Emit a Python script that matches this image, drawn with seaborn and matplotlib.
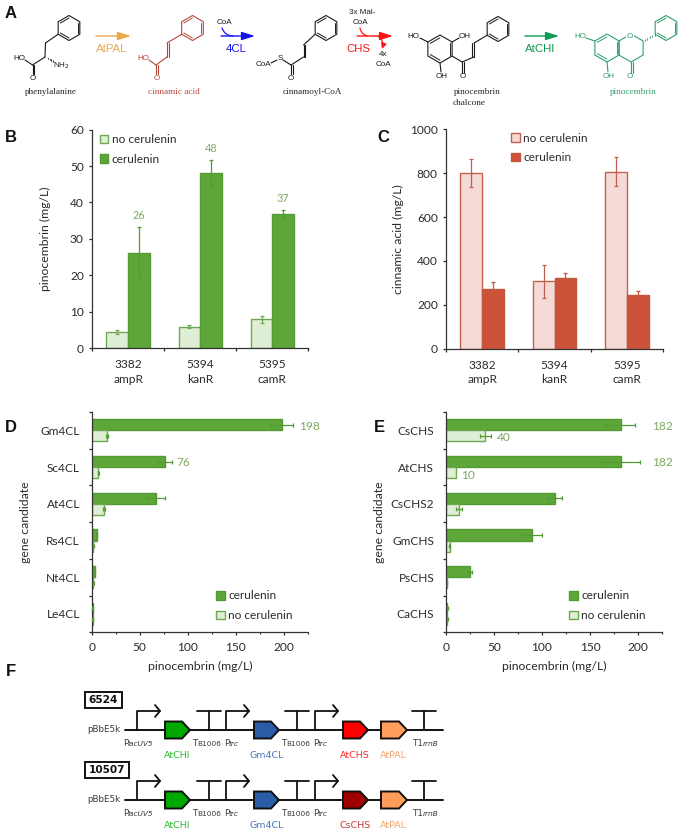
import numpy as np
import pandas as pd
import matplotlib
matplotlib.use('Agg')
import matplotlib.pyplot as plt
from matplotlib.patches import Polygon, Rectangle, FancyArrowPatch
import seaborn as sns

W, H = 680, 832

# dati pannelli B e C
ceppi = ['3382\nampR', '5394\nkanR', '5395\ncamR']
b_no = [4.4, 5.9, 7.9]
b_no_err = [0.5, 0.3, 1.0]
b_cer = [26.2, 48.0, 36.8]
b_cer_err = [7.0, 3.8, 1.0]
b_etichette = ['26', '48', '37']

c_no = [800, 308, 806]
c_no_err = [63, 75, 66]
c_cer = [270, 323, 243]
c_cer_err = [35, 24, 18]

# dati pannelli D ed E
geni_d = ['Gm4CL', 'Sc4CL', 'At4CL', 'Rs4CL', 'Nt4CL', 'Le4CL']
d_cer = [198, 76, 67, 5, 3, 1]
d_cer_err = [11.5, 8, 9, 0.8, 0.5, 0.3]
d_no = [16, 7, 13, 1.5, 1.5, 1]
d_no_err = [0.8, 0.8, 0.8, 0.4, 0.4, 0.3]

geni_e = ['CsCHS', 'AtCHS', 'CsCHS2', 'GmCHS', 'PsCHS', 'CaCHS']
e_cer = [182, 182, 113.5, 90, 25, 1.5]
e_cer_err = [15, 20, 7, 9.5, 2, 0.3]
e_no = [41, 10, 13.5, 4, 0.8, 1.5]
e_no_err = [6, 0, 3.5, 0.5, 0.2, 0.3]

VERDE_CHIARO, VERDE = '#DFEFD5', '#5FA63A'
BORDO_VERDE_CHIARO, BORDO_VERDE = '#6EA853', '#549A33'
ROSSO_CHIARO, ROSSO = '#F5DBD7', '#CC5239'
BORDO_ROSSO_CHIARO, BORDO_ROSSO = '#C2604F', '#C2573F'
ETICHETTA_VERDE = '#7FA860'
TESTO = '#2B2B2B'
FS = 8.6

sns.set_theme(style='ticks')
plt.rcParams['font.family'] = ['Lato', 'DejaVu Sans']
plt.rcParams['text.color'] = TESTO
plt.rcParams['axes.labelcolor'] = TESTO
plt.rcParams['xtick.color'] = TESTO
plt.rcParams['ytick.color'] = TESTO

fig = plt.figure(figsize=(W / 100, H / 100), dpi=100)


def assi_px(x0, y0, x1, y1):
    # assi posizionati in pixel dell'immagine
    return fig.add_axes([x0 / W, 1 - y1 / H, (x1 - x0) / W, (y1 - y0) / H])


def barre(ax, categorie, serie, nomi, colori, orizzontale=False):
    # tabella lunga per seaborn
    righe = []
    for nome, valori in zip(nomi, serie):
        for c, v in zip(categorie, valori):
            righe.append({'categoria': c, 'valore': v, 'gruppo': nome})
    df = pd.DataFrame(righe)
    assi = {'y': 'categoria', 'x': 'valore'} if orizzontale else {'x': 'categoria', 'y': 'valore'}
    sns.barplot(data=df, hue='gruppo', hue_order=nomi, palette=colori, width=0.6,
                gap=0, legend=False, ax=ax, saturation=1, errorbar=None, **assi)


def stile_barre(cont, bordo):
    for p in cont:
        p.set_edgecolor(bordo)
        p.set_linewidth(1.0)


def errori(ax, cont, valori, err, colore, orizzontale=False):
    for p, v, e in zip(cont, valori, err):
        if e == 0:
            continue
        if orizzontale:
            ax.errorbar(v, p.get_y() + p.get_height() / 2, xerr=e, color=colore, lw=0.9,
                        capsize=1.6, capthick=0.9, zorder=5)
        else:
            ax.errorbar(p.get_x() + p.get_width() / 2, v, yerr=e, color=colore, lw=0.9,
                        capsize=1.6, capthick=0.9, zorder=5)


def spine_base(ax):
    sns.despine(ax=ax)
    for s in ['left', 'bottom']:
        ax.spines[s].set_color('#333333')
        ax.spines[s].set_linewidth(0.9)
    ax.set_xlabel('')
    ax.set_ylabel('')


def legenda(ax, cont, nomi, pos):
    leg = ax.legend([c[0] for c in cont], nomi, loc='upper left', bbox_to_anchor=pos,
                    frameon=False, fontsize=FS, handlelength=0.72, handleheight=0.72,
                    handletextpad=0.28, labelspacing=0.72, borderpad=0, borderaxespad=0)
    return leg


def verticale(box, serie, err, nomi, colori, bordi, ylim, yticks, ylabel, xlab_px, leg_pos):
    ax = assi_px(*box)
    barre(ax, ceppi, serie, nomi, colori)
    for cont, bordo, val, er in zip(ax.containers, bordi, serie, err):
        stile_barre(cont, bordo)
        errori(ax, cont, val, er, bordo)
    spine_base(ax)
    ax.set_xlim(-0.5, 2.5)
    ax.set_ylim(*ylim)
    ax.set_yticks(yticks)
    ax.tick_params(axis='y', labelsize=FS, length=2.3, width=0.9, pad=3.6)
    # tacche ai confini delle categorie, etichette al centro
    ax.set_xticks([-0.5, 0.5, 1.5, 2.5])
    ax.set_xticklabels([])
    ax.set_xticks([0, 1, 2], minor=True)
    ax.set_xticklabels(ceppi, minor=True, fontsize=FS, linespacing=1.38)
    ax.tick_params(axis='x', which='major', length=2.3, width=0.9)
    ax.tick_params(axis='x', which='minor', length=0, pad=8)
    ax.set_ylabel(ylabel, fontsize=8.8)
    ax.yaxis.set_label_coords((xlab_px + 6 - box[0]) / (box[2] - box[0]), 0.5)
    legenda(ax, ax.containers, nomi, leg_pos)
    return ax


def orizzontale(box, geni, serie, err, colori, bordi, ylab_px, leg_pos):
    nomi = ['cerulenin', 'no cerulenin']
    ax = assi_px(*box)
    barre(ax, geni, serie, nomi, colori, orizzontale=True)
    for cont, bordo, val, er in zip(ax.containers, bordi, serie, err):
        stile_barre(cont, bordo)
        errori(ax, cont, val, er, BORDO_VERDE, orizzontale=True)
    spine_base(ax)
    ax.set_xlim(0, 225)
    ax.set_ylim(5.5, -0.5)
    ax.set_xticks([0, 50, 100, 150, 200])
    ax.set_xticks([25, 75, 125, 175, 225], minor=True)
    ax.tick_params(axis='x', which='major', labelsize=FS, length=2.3, width=0.9, pad=5)
    ax.tick_params(axis='x', which='minor', length=1.5, width=0.8)
    ax.set_yticks([-0.5, 0.5, 1.5, 2.5, 3.5, 4.5, 5.5])
    ax.set_yticklabels([])
    ax.set_yticks(range(6), minor=True)
    ax.set_yticklabels(geni, minor=True, fontsize=FS)
    ax.tick_params(axis='y', which='major', length=2.3, width=0.9)
    ax.tick_params(axis='y', which='minor', length=0, pad=8.5)
    ax.set_xlabel('pinocembrin (mg/L)', fontsize=8.8)
    ax.xaxis.set_label_coords(0.5, -(661 - box[3]) / (box[3] - box[1]))
    ax.set_ylabel('gene candidate', fontsize=8.8)
    ax.yaxis.set_label_coords((ylab_px + 6 - box[0]) / (box[2] - box[0]), 0.5)
    legenda(ax, ax.containers, nomi, leg_pos)
    return ax


# pannello B
ax_b = verticale((92, 129.7, 308.5, 348), [b_no, b_cer], [b_no_err, b_cer_err],
                 ['no cerulenin', 'cerulenin'], [VERDE_CHIARO, VERDE],
                 [BORDO_VERDE_CHIARO, BORDO_VERDE], (0, 60), range(0, 61, 10),
                 'pinocembrin (mg/L)', 45, (0.035, 0.98))
for p, v, e, t in zip(ax_b.containers[1], b_cer, b_cer_err, b_etichette):
    ax_b.annotate(t, (p.get_x() + p.get_width() / 2, v + e), xytext=(0, 8.3), textcoords='offset points',
                  ha='center', va='center', color=ETICHETTA_VERDE, fontsize=FS - 0.8, annotation_clip=False)

# pannello C
verticale((446, 129.3, 663, 348.7), [c_no, c_cer], [c_no_err, c_cer_err],
          ['no cerulenin', 'cerulenin'], [ROSSO_CHIARO, ROSSO],
          [BORDO_ROSSO_CHIARO, BORDO_ROSSO], (0, 1000), range(0, 1001, 200),
          'cinnamic acid (mg/L)', 398, (0.30, 0.985))

# pannello D
ax_d = orizzontale((91.7, 412, 308, 632.3), geni_d, [d_cer, d_no], [d_cer_err, d_no_err],
                   [VERDE, VERDE_CHIARO], [BORDO_VERDE, BORDO_VERDE_CHIARO], 25, (0.575, 0.19))
ax_d.text(216, -0.1, '198', color=ETICHETTA_VERDE, fontsize=FS, va='center')
ax_d.text(88, 0.88, '76', color=ETICHETTA_VERDE, fontsize=FS, va='center')

# pannello E
ax_e = orizzontale((446, 412, 662, 632.3), geni_e, [e_cer, e_no], [e_cer_err, e_no_err],
                   [VERDE, VERDE_CHIARO], [BORDO_VERDE, BORDO_VERDE_CHIARO], 379, (0.57, 0.19))
for x, y, t in [(215, -0.1, '182'), (215, 0.88, '182'), (53, 0.2, '40'), (16, 1.24, '10')]:
    ax_e.text(x, y, t, color=ETICHETTA_VERDE, fontsize=FS, va='center')

# strato in pixel per lo schema chimico e il costrutto genetico
ov = fig.add_axes([0, 0, 1, 1])
ov.set_xlim(0, W)
ov.set_ylim(H, 0)
ov.axis('off')


def segmento(p, q, c='k', lw=0.8):
    ov.plot([p[0], q[0]], [p[1], q[1]], color=c, lw=lw, solid_capstyle='round')


def doppio(p, q, c='k', d=1.6):
    p, q = np.array(p, float), np.array(q, float)
    n = np.array([q[1] - p[1], p[0] - q[0]])
    n = n / np.hypot(*n) * d
    segmento(p, q, c)
    segmento(p + n, q + n, c)


def anello(cx, cy, c='k', r=12.5):
    a = np.radians(np.arange(90, 450, 60))
    xs, ys = cx + r * np.cos(a), cy - r * np.sin(a)
    ov.add_patch(Polygon(np.c_[xs, ys], closed=True, fill=False, edgecolor=c, lw=0.8))
    xi, yi = cx + 0.8 * r * np.cos(a), cy - 0.8 * r * np.sin(a)
    for i in [0, 2, 4]:
        j = (i + 1) % 6
        segmento((xi[i], yi[i]), (xi[j], yi[j]), c, 0.7)
    return list(zip(xs, ys))


def atomo(x, y, t, c='k', fs=5.8):
    ov.text(x, y, t, color=c, fontsize=fs, ha='center', va='center', family=['Liberation Sans'])


def nome(x, y, t, c='#222222'):
    ov.text(x, y, t, color=c, fontsize=6.6, ha='center', va='center', family=['Liberation Serif'])


def freccia(x0, x1, y, c, t, xt):
    ov.add_patch(FancyArrowPatch((x0, y), (x1, y), arrowstyle='-|>,head_length=0.8,head_width=0.25',
                                 mutation_scale=10, color=c, lw=1.0, shrinkA=0, shrinkB=0))
    ov.text(xt, y + 13, t, color=c, fontsize=8.2, ha='center', va='center', family=['Liberation Sans'])


def curva(p, q, c, rad, punta=False):
    stile = '-|>,head_length=0.4,head_width=0.2' if punta else '-'
    ov.add_patch(FancyArrowPatch(p, q, arrowstyle=stile, connectionstyle=f'arc3,rad={rad}', color=c, lw=0.9,
                                 mutation_scale=8, shrinkA=0, shrinkB=0))


# fenilalanina
v = anello(69, 28)
segmento(v[2], (45.5, 43))
segmento((45.5, 43), (45, 57))
segmento((45, 57), (32.5, 65))
doppio((32.5, 65), (32.5, 74))
for f in np.linspace(0.2, 1, 5):
    segmento((45 + 8 * f, 57 + 4 * f - 1.2 * f), (45 + 8 * f, 57 + 4 * f + 1.2 * f), 'k', 0.6)
atomo(19.5, 58, 'HO')
segmento((25, 60), (32.5, 65))
atomo(61, 66, 'NH$_2$')
atomo(32.5, 78, 'O')
nome(51, 92, 'phenylalanine')

# acido cinnamico
ROSSO_TXT = '#B5473A'
v = anello(192.5, 28, ROSSO_TXT)
segmento(v[2], (167, 43), ROSSO_TXT)
doppio((167, 43), (167, 57), ROSSO_TXT)
segmento((167, 57), (156, 65), ROSSO_TXT)
doppio((156, 65), (156, 74), ROSSO_TXT)
segmento((149, 60), (156, 65), ROSSO_TXT)
atomo(143, 58, 'HO', ROSSO_TXT)
atomo(157, 78, 'O', ROSSO_TXT)
nome(174, 92, 'cinnamic acid', ROSSO_TXT)

# cinnamoil-CoA
v = anello(326, 28)
segmento(v[2], (303.5, 45))
doppio((303.5, 45), (303.5, 57))
segmento((303.5, 57), (291, 65))
doppio((291, 65), (291, 74))
segmento((291, 65), (283, 60))
segmento((277, 60), (271, 63))
atomo(280, 58, 'S')
atomo(263, 64, 'CoA')
atomo(291, 78, 'O')
nome(312, 92, 'cinnamoyl-CoA')

# calcone
v = anello(440, 49, r=14)
w = anello(498, 29)
segmento(v[1], (420, 38))
segmento(v[5], (459, 38))
segmento(v[3], (441, 72))
segmento(v[4], (462, 62))
doppio((462, 62), (462, 73))
segmento((462, 62), (474, 57))
doppio((474, 57), (474, 43))
segmento((474, 43), w[2])
atomo(413, 36, 'HO')
atomo(465, 36, 'OH')
atomo(442, 77, 'OH')
atomo(463, 77, 'O')
nome(477, 92, 'pinocembrin')
nome(469, 103, 'chalcone')

# pinocembrina
VERDE_P = '#2F9E6C'
v = anello(607, 48, VERDE_P, r=14)
w = anello(666, 28, VERDE_P)
x_b = [631, 643.1, 643.1, 631, 618.9, 618.9]
y_b = [34, 41, 55, 62, 55, 41]
ov.add_patch(Polygon(np.c_[x_b, y_b], closed=True, fill=False, edgecolor=VERDE_P, lw=0.8))
segmento(v[1], (586, 38), VERDE_P)
segmento(v[3], (608, 72), VERDE_P)
doppio((631, 62), (631, 73), VERDE_P)
for f in np.linspace(0.15, 0.95, 5):
    p = (643.1 + (w[2][0] - 643.1) * f, 41 + (w[2][1] - 41) * f)
    segmento((p[0], p[1] - 1.1), (p[0], p[1] + 1.1), VERDE_P, 0.6)
atomo(580, 36, 'HO', VERDE_P)
ov.text(630, 36, 'O', color=VERDE_P, fontsize=5.8, ha='center', va='center', family=['Liberation Sans'],
        bbox=dict(fc='white', ec='none', pad=0.6))
atomo(609, 77, 'OH', VERDE_P)
atomo(630, 77, 'O', VERDE_P)
nome(633, 92, 'pinocembrin', VERDE_P)

# frecce enzimatiche
freccia(96, 131, 36, '#EBA94D', 'AtPAL', 112)
freccia(221, 255, 36, '#1414F0', '4CL', 236)
freccia(357, 393, 36, '#FF1414', 'CHS', 358)
freccia(525, 559, 36, '#0E9A55', 'AtCHI', 540)
curva((222, 28), (233, 36), '#1414F0', 0.35)
curva((360, 28), (368, 36), '#FF1414', 0.35)
curva((378, 36), (382, 49), '#FF1414', -0.35, punta=True)
atomo(224, 23, 'CoA')
atomo(362, 13, '3x Mal-')
atomo(360, 23, 'CoA')
atomo(383, 55, '4x')
atomo(383, 65, 'CoA')

# lettere dei pannelli
for x, y, t in [(11, 13, 'A'), (11, 138, 'B'), (383, 138, 'C'), (11, 428, 'D'), (379, 428, 'E'), (11, 672, 'F')]:
    ov.text(x, y, t, fontsize=12, fontweight='bold', ha='center', va='center', color='#111111',
            family=['Liberation Sans'])

# costrutti genetici
GRIGIO = '#3A3A3A'


def pedice(x, y, a, b, italic=True):
    # lettera grande e pedice piccolo affiancati
    ov.text(x, y, a, fontsize=6.3, ha='right', va='baseline', color=GRIGIO, family=['DejaVu Sans'])
    ov.text(x, y, b, fontsize=5.3, ha='left', va='baseline', color=GRIGIO, family=['DejaVu Sans'],
            style='italic' if italic else 'normal')


def gene(x0, x1, y, colore):
    ov.add_patch(Polygon([(x0, y - 8.5), (x1 - 8, y - 8.5), (x1, y), (x1 - 8, y + 8.5), (x0, y + 8.5)], closed=True,
                         facecolor=colore, edgecolor='#111111', lw=1.4, zorder=4))


def costrutto(y, numero, box_w, colore_chs, nome_chs, colore_txt):
    ov.plot([125, 443], [y, y], color='#111111', lw=1.4)
    ov.add_patch(Rectangle((85, y - 38), box_w, 16, fill=False, edgecolor='#111111', lw=1.4))
    ov.text(85 + box_w / 2, y - 30, numero, fontsize=7.6, fontweight='bold', ha='center', va='center',
            color='#111111', family=['DejaVu Sans'])
    ov.text(120, y, 'pBbE5k', fontsize=6.3, ha='right', va='center', color=GRIGIO, family=['DejaVu Sans'])
    for x in [137, 226, 315]:
        ov.plot([x, x, x + 23], [y, y - 19, y - 19], color='#111111', lw=1.3)
        ov.plot([x + 18, x + 23, x + 18], [y - 25, y - 19, y - 13], color='#111111', lw=1.3)
    for x in [209, 297, 424]:
        ov.plot([x, x], [y, y - 19], color='#111111', lw=1.3)
        ov.plot([x - 12, x + 12], [y - 19, y - 19], color='#111111', lw=1.3)
    gene(165, 190, y, '#00A800')
    gene(254, 279, y, '#2B5CA8')
    gene(343, 368, y, colore_chs)
    gene(381, 407, y, '#FF9E5A')
    base = y + 16
    pedice(128, base, 'P', 'lacUV5')
    pedice(197, base, 'T', 'B1006', False)
    pedice(229, base, 'P', 'trc')
    pedice(286, base, 'T', 'B1006', False)
    pedice(318, base, 'P', 'trc')
    pedice(423, base, 'T1', 'rrnB')
    for x, t, c in [(177, 'AtCHI', '#2DBB2D'), (267, 'Gm4CL', '#4A78B8'), (355, nome_chs, colore_txt),
                    (393, 'AtPAL', '#F5A36A')]:
        ov.text(x, y + 26, t, fontsize=6.8, ha='center', va='center', color=c, family=['DejaVu Sans'])


costrutto(730, '6524', 37, '#FF0000', 'AtCHS', '#FF2A2A')
costrutto(800, '10507', 44, '#A00000', 'CsCHS', '#C03A3A')

plt.savefig('out.png', dpi=100)
